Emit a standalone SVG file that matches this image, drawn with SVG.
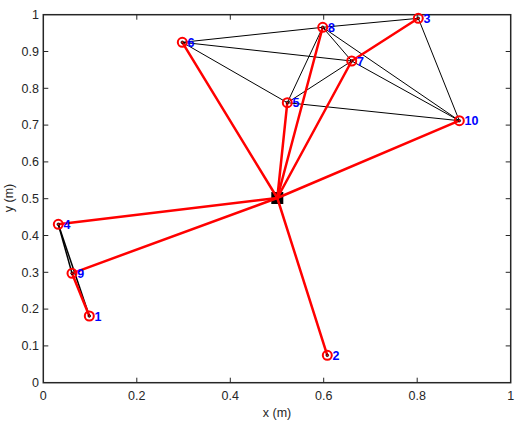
<svg xmlns="http://www.w3.org/2000/svg" width="517" height="426" viewBox="0 0 517 426">
<style>
.tick{font-family:"Liberation Sans",Arial,sans-serif;font-size:12.5px;fill:#262626}
.lab{font-family:"Liberation Sans",Arial,sans-serif;font-size:12.5px;fill:#262626}
.ax{fill:none;stroke:#262626;stroke-width:1.5}
.tk{stroke:#262626;stroke-width:1}
.blk{stroke:#000;stroke-width:1;fill:none}
.red{stroke:#ff0000;stroke-width:2.5;fill:none;stroke-linecap:round}
.mk{fill:none;stroke:#ff0000;stroke-width:2}
.dot{fill:none;stroke:#000;stroke-width:0.8}
.nl{font-family:"Liberation Sans",Arial,sans-serif;font-size:12.5px;font-weight:bold;fill:#0000ff}
</style>
<rect width="517" height="426" fill="#fff"/>
<g id="axes">
<rect class="ax" x="43.3" y="14.7" width="467.4" height="368"/>
<g class="tk">
<path d="M136.8 382.7v-5M230.3 382.7v-5M323.7 382.7v-5M417.2 382.7v-5M136.8 14.7v5M230.3 14.7v5M323.7 14.7v5M417.2 14.7v5"/>
<path d="M43.3 345.9h5M43.3 309.1h5M43.3 272.3h5M43.3 235.5h5M43.3 198.7h5M43.3 161.9h5M43.3 125.1h5M43.3 88.3h5M43.3 51.5h5M510.7 345.9h-5M510.7 309.1h-5M510.7 272.3h-5M510.7 235.5h-5M510.7 198.7h-5M510.7 161.9h-5M510.7 125.1h-5M510.7 88.3h-5M510.7 51.5h-5"/>
</g>
<g class="tick" text-anchor="middle">
<text x="43.3" y="400">0</text><text x="136.8" y="400">0.2</text><text x="230.3" y="400">0.4</text><text x="323.7" y="400">0.6</text><text x="417.2" y="400">0.8</text><text x="510.7" y="400">1</text>
</g>
<g class="tick" text-anchor="end">
<text x="39" y="387">0</text><text x="39" y="350.2">0.1</text><text x="39" y="313.4">0.2</text><text x="39" y="276.6">0.3</text><text x="39" y="239.8">0.4</text><text x="39" y="203">0.5</text><text x="39" y="166.2">0.6</text><text x="39" y="129.4">0.7</text><text x="39" y="92.6">0.8</text><text x="39" y="55.8">0.9</text><text x="39" y="19">1</text>
</g>
<text class="lab" x="277" y="417" text-anchor="middle">x (m)</text>
<text class="lab" transform="translate(13,198) rotate(-90)" text-anchor="middle">y (m)</text>
</g>
<g id="connectors">
<g class="blk">
<line x1="182.3" y1="42.3" x2="322.7" y2="27.3"/>
<line x1="182.3" y1="42.3" x2="351.7" y2="61"/>
<line x1="182.3" y1="42.3" x2="287.3" y2="102.7"/>
<line x1="322.7" y1="27.3" x2="418.3" y2="18.3"/>
<line x1="322.7" y1="27.3" x2="287.3" y2="102.7"/>
<line x1="322.7" y1="27.3" x2="351.7" y2="61"/>
<line x1="322.7" y1="27.3" x2="459.3" y2="120.7"/>
<line x1="351.7" y1="61" x2="459.3" y2="120.7"/>
<line x1="351.7" y1="61" x2="287.3" y2="102.7"/>
<line x1="287.3" y1="102.7" x2="459.3" y2="120.7"/>
<line x1="418.3" y1="18.3" x2="459.3" y2="120.7"/>
<line x1="58.3" y1="224.3" x2="72" y2="273.3" stroke-width="1.5"/>
<line x1="58.3" y1="224.3" x2="89.3" y2="316" stroke-width="1.5"/>
</g>
<rect id="sink" x="271.3" y="192" width="12" height="12" fill="#000"/>
<g class="red">
<line x1="277.3" y1="198" x2="182.3" y2="42.3"/>
<line x1="277.3" y1="198" x2="322.7" y2="27.3"/>
<line x1="277.3" y1="198" x2="351.7" y2="61"/>
<line x1="351.7" y1="61" x2="418.3" y2="18.3"/>
<line x1="277.3" y1="198" x2="287.3" y2="102.7"/>
<line x1="277.3" y1="198" x2="459.3" y2="120.7"/>
<line x1="277.3" y1="198" x2="58.3" y2="224.3"/>
<line x1="277.3" y1="198" x2="72" y2="273.3"/>
<line x1="72" y1="273.3" x2="89.3" y2="316"/>
<line x1="277.3" y1="198" x2="327.3" y2="355.3"/>
</g>
</g>
<g id="n1"><circle class="mk" cx="89.3" cy="316" r="4.5"/><circle class="dot" cx="89.3" cy="316" r="1.3"/><text class="nl" x="94.5" y="320.5">1</text></g>
<g id="n2"><circle class="mk" cx="327.3" cy="355.3" r="4.5"/><circle class="dot" cx="327.3" cy="355.3" r="1.3"/><text class="nl" x="332.5" y="359.8">2</text></g>
<g id="n3"><circle class="mk" cx="418.3" cy="18.3" r="4.5"/><circle class="dot" cx="418.3" cy="18.3" r="1.3"/><text class="nl" x="423.5" y="22.8">3</text></g>
<g id="n4"><circle class="mk" cx="58.3" cy="224.3" r="4.5"/><circle class="dot" cx="58.3" cy="224.3" r="1.3"/><text class="nl" x="63.5" y="228.8">4</text></g>
<g id="n5"><circle class="mk" cx="287.3" cy="102.7" r="4.5"/><circle class="dot" cx="287.3" cy="102.7" r="1.3"/><text class="nl" x="292.5" y="107.2">5</text></g>
<g id="n6"><circle class="mk" cx="182.3" cy="42.3" r="4.5"/><circle class="dot" cx="182.3" cy="42.3" r="1.3"/><text class="nl" x="187.5" y="46.8">6</text></g>
<g id="n7"><circle class="mk" cx="351.7" cy="61" r="4.5"/><circle class="dot" cx="351.7" cy="61" r="1.3"/><text class="nl" x="356.9" y="65.5">7</text></g>
<g id="n8"><circle class="mk" cx="322.7" cy="27.3" r="4.5"/><circle class="dot" cx="322.7" cy="27.3" r="1.3"/><text class="nl" x="327.9" y="31.8">8</text></g>
<g id="n9"><circle class="mk" cx="72" cy="273.3" r="4.5"/><circle class="dot" cx="72" cy="273.3" r="1.3"/><text class="nl" x="77.2" y="277.8">9</text></g>
<g id="n10"><circle class="mk" cx="459.3" cy="120.7" r="4.5"/><circle class="dot" cx="459.3" cy="120.7" r="1.3"/><text class="nl" x="464.5" y="125.2">10</text></g>
</svg>
